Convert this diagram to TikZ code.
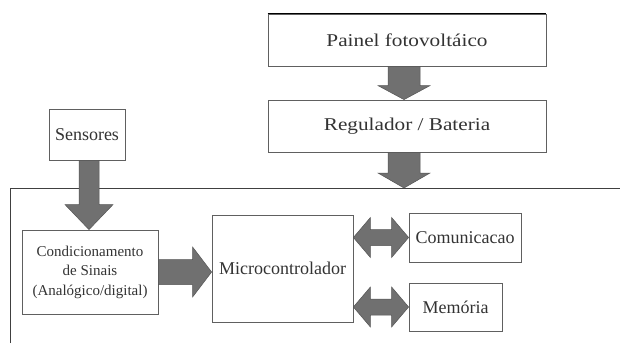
\documentclass[tikz,border=0pt]{standalone}
\usepackage{fontspec}
\setmainfont{Liberation Serif}
\newfontfamily\widefont[FakeStretch=1.18]{Liberation Serif}
\usetikzlibrary{calc}
\definecolor{arrowgray}{HTML}{707070}
\definecolor{edgegray}{HTML}{555555}
\definecolor{boxline}{HTML}{606060}
\definecolor{txt}{HTML}{333333}
\tikzset{
  blk/.style={draw=boxline,line width=0.8pt,inner sep=0pt,text=txt,align=center,
    font=\fontsize{18}{20}\selectfont},
  topblk/.style={blk,font=\widefont\fontsize{18}{20}\selectfont},
  arrowfill/.style={fill=arrowgray,draw=edgegray,line width=0.5pt,line join=miter},
  framel/.style={draw=black!75,line width=1pt}
}
% vertical block arrow pointing down: #1 start, #2 end, #3 shaft half, #4 head half, #5 head length
\newcommand\blkdown[5]{%
  \path[arrowfill] let \p1=(#1), \p2=(#2) in
    (\x1-#3,\y1) -- (\x1+#3,\y1) -- (\x1+#3,\y2+#5) -- (\x1+#4,\y2+#5) -- (\x1,\y2)
    -- (\x1-#4,\y2+#5) -- (\x1-#3,\y2+#5) -- cycle;}
% horizontal block arrow pointing right
\newcommand\blkright[5]{%
  \path[arrowfill] let \p1=(#1), \p2=(#2) in
    (\x1,\y1+#3) -- (\x2-#5,\y1+#3) -- (\x2-#5,\y1+#4) -- (\x2,\y1) -- (\x2-#5,\y1-#4)
    -- (\x2-#5,\y1-#3) -- (\x1,\y1-#3) -- cycle;}
% horizontal double block arrow
\newcommand\blkdouble[5]{%
  \path[arrowfill] let \p1=(#1), \p2=(#2) in
    (\x1,\y1) -- (\x1+#5,\y1+#4) -- (\x1+#5,\y1+#3) -- (\x2-#5,\y1+#3) -- (\x2-#5,\y1+#4)
    -- (\x2,\y1) -- (\x2-#5,\y1-#4) -- (\x2-#5,\y1-#3) -- (\x1+#5,\y1-#3) -- (\x1+#5,\y1-#4) -- cycle;}
\begin{document}
\begin{tikzpicture}[x=1pt,y=-1pt]
\useasboundingbox[fill=white] (0,0) rectangle (620,343);

\node[topblk,minimum width=278pt,minimum height=52pt] (painel) at (407,40) {Painel fotovoltáico};
\draw[black,line width=1.6pt] (painel.north west) -- (painel.north east);
\node[topblk,minimum width=278pt,minimum height=52pt] (regul) at (407,126) {Regulador / Bateria};
\node[blk,minimum width=76pt,minimum height=51pt] (sens) at (87,134.5) {Sensores};
\node[blk,minimum width=136pt,minimum height=84pt,font=\fontsize{15}{19.5}\selectfont] (cond) at (90,272)
  {Condicionamento\\de Sinais\\(Analógico/digital)};
\node[blk,minimum width=141pt,minimum height=107pt] (micro) at (282.5,268.5) {Microcontrolador};
\node[blk,minimum width=112pt,minimum height=49pt] (comm) at (465,237.5) {Comunicacao};
\node[blk,minimum width=93pt,minimum height=48pt] (mem) at (455.5,307) {Memória};

% open frame (top and left edges)
\coordinate (fbl) at (10,343);
\coordinate (ftl) at (10,188);
\coordinate (ftr) at (620,188);
\draw[framel] (fbl) -- (ftl) -- (ftr);

% arrows
\coordinate (a1s) at ($(painel.south)+(-3,0)$);
\coordinate (a1e) at ($(regul.north)+(-3,0)$);
\blkdown{a1s}{a1e}{16pt}{26pt}{14pt}
\coordinate (a2s) at ($(regul.south)+(-3,0)$);
\coordinate (a2e) at (a2s |- ftl);
\blkdown{a2s}{a2e}{16pt}{26pt}{15pt}
\coordinate (a3s) at ($(sens.south)+(2,0)$);
\coordinate (a3e) at (a3s |- cond.north);
\blkdown{a3s}{a3e}{10pt}{24pt}{25pt}
\coordinate (a4e) at (micro.west |- cond.east);
\blkright{cond.east}{a4e}{12.5pt}{25pt}{19pt}
\coordinate (a5s) at (micro.east |- comm.west);
\blkdouble{a5s}{comm.west}{8pt}{20pt}{17pt}
\coordinate (a6s) at (micro.east |- mem.west);
\blkdouble{a6s}{mem.west}{8pt}{20pt}{17pt}
\end{tikzpicture}
\end{document}
